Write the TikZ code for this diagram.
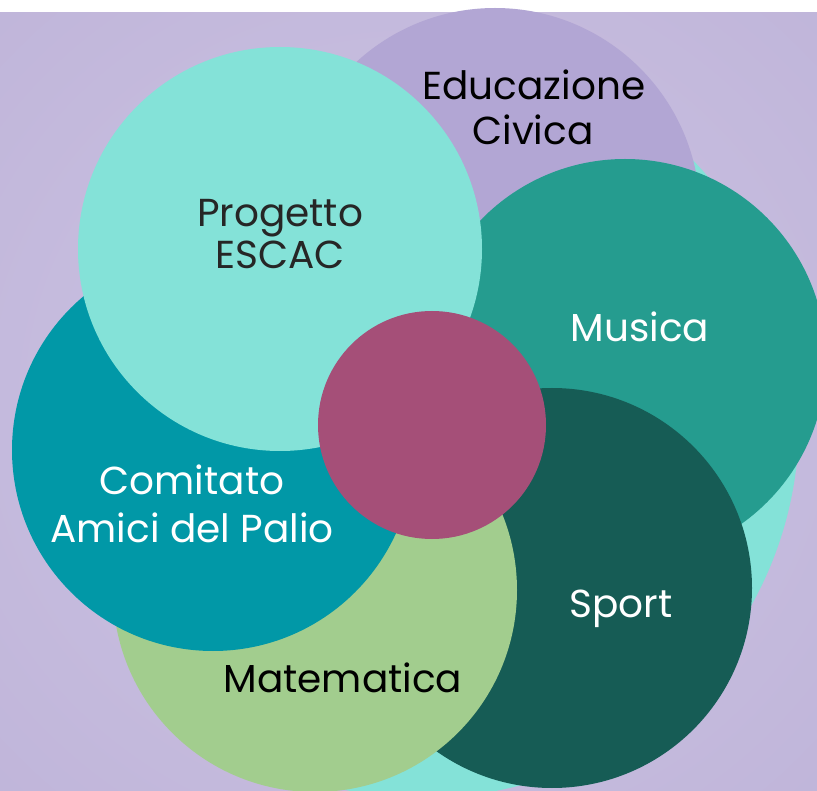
\documentclass[tikz,border=0pt]{standalone}
\usepackage{fontspec}
\setmainfont{Poppins}
\definecolor{bgin}{HTML}{C6BCDE}
\definecolor{bgout}{HTML}{B2A6D0}
\definecolor{edupurple}{HTML}{B2A6D4}
\definecolor{turq}{HTML}{84E2D8}
\definecolor{musteal}{HTML}{259C8F}
\definecolor{sportgreen}{HTML}{165C55}
\definecolor{matgreen}{HTML}{A2CD8E}
\definecolor{comteal}{HTML}{0198A7}
\definecolor{magenta}{HTML}{A54F78}
\definecolor{darktext}{HTML}{262626}
\pgfdeclareradialshading{bgshade}{\pgfpoint{0bp}{0bp}}{color(0bp)=(bgin); color(20bp)=(bgin); color(72bp)=(bgout)}
\begin{document}
\begin{tikzpicture}[x=1pt,y=-1pt,
  lbl/.style={font=\fontsize{39}{47}\selectfont, anchor=base, inner sep=0pt}]
\useasboundingbox (0,0) rectangle (817,791);
\fill[white] (0,0) rectangle (817,791);
\shade[shading=bgshade] (0,13) rectangle (817,791);
% hidden big circle behind Musica and Sport
\begin{scope}
  \clip (330,120) rectangle (817,791);
  \fill[turq] (423,422) circle[radius=376];
\end{scope}
\fill[edupurple] (495,213) circle[radius=205];
\fill[musteal] (625,360) circle[radius=201];
\fill[sportgreen] (552,588) circle[radius=200];
\fill[matgreen] (315,590) circle[radius=202];
\fill[comteal] (213,450) circle[radius=201];
\fill[turq] (280,249) circle[radius=202];
\fill[magenta] (432,425) circle[radius=114];
% labels
\node[lbl, text=black] (edu1) at (534,100) {Educazione};
\node[lbl, text=black] (edu2) at (533,145) {Civica};
\node[lbl, text=darktext] (pro1) at (280,227) {Progetto};
\node[lbl, text=darktext] (pro2) at (280,269) {ESCAC};
\node[lbl, text=white] (mus) at (640,342) {Musica};
\node[lbl, text=white] (spo) at (621,617) {Sport};
\node[lbl, text=white] (com1) at (192,495) {Comitato};
\node[lbl, text=white] (com2) at (192,542) {Amici del Palio};
\node[lbl, text=black] (mat) at (343,692) {Matematica};
\end{tikzpicture}
\end{document}
